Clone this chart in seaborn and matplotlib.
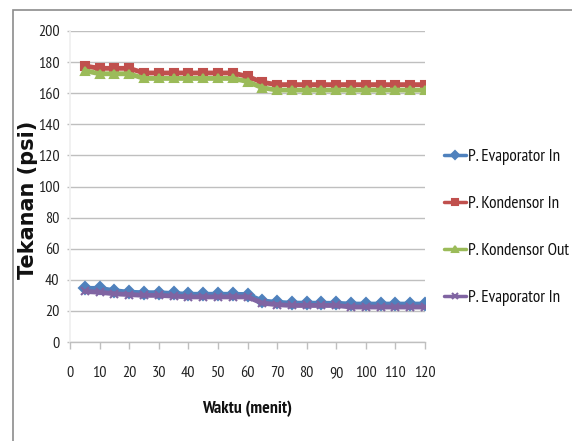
import matplotlib
matplotlib.use("Agg")
import matplotlib.pyplot as plt
import seaborn as sns
import pandas as pd
from matplotlib.patches import Rectangle

waktu = [5, 10, 15, 20, 25, 30, 35, 40, 45, 50, 55, 60, 65, 70, 75, 80, 85, 90, 95, 100, 105, 110, 115, 120]
evap_in_1 = [34.5, 34.5, 33, 32, 31.7, 31.7, 31.2, 30.7, 30.7, 30.7, 30.7, 30.5, 26.4, 25.5, 25, 25, 24.9, 24.9, 24.4, 24.4, 24.4, 24.4, 24.4, 24.4]
kond_in = [177.5, 176, 176, 176, 173, 173, 173, 173, 173, 173, 173, 170.8, 167, 165.5, 165.5, 165.5, 165.5, 165.5, 165.5, 165.5, 165.5, 165.5, 165.5, 165.5]
kond_out = [174.5, 172.5, 172.5, 172.5, 169.5, 169.5, 169.5, 169.5, 169.5, 169.5, 169.5, 167.5, 163.5, 162, 162, 162, 162, 162, 162, 162, 162, 162, 162, 162]
evap_in_2 = [32.5, 32, 31, 30.5, 30, 30, 29.5, 29, 29, 29, 29, 29, 25, 24, 23.5, 23.5, 23.5, 23.5, 22.5, 22.5, 22.5, 22.5, 22.5, 22.5]
labels = ["P. Evaporator In", "P. Kondensor In", "P. Kondensor Out", "P. Evaporator In"]
colors = ["#4F81BD", "#C0504D", "#9BBB59", "#8064A2"]
markers = ["D", "s", "^", "x"]
y_ticks = list(range(0, 201, 20))
x_ticks = list(range(0, 121, 10))

sns.set_theme(style="white")
plt.rcParams['font.family'] = ['PT Sans Narrow', 'Carlito', 'Liberation Sans', 'DejaVu Sans']

fig = plt.figure(figsize=(5.72, 4.41), dpi=100)
ax = fig.add_axes([70/572, 1-342/441, 355/572, 311/441])

series = [evap_in_1, kond_in, kond_out, evap_in_2]
for vals, lab, col, mk in zip(series, labels, colors, markers):
    df = pd.DataFrame({"Waktu": waktu, "Tekanan": vals})
    sns.lineplot(data=df, x="Waktu", y="Tekanan", ax=ax, color=col, marker=mk,
                 markersize=6, markeredgecolor=col, markeredgewidth=1.5,
                 linewidth=3.5, label=lab)

ax.set_xlim(0, 120)
ax.set_ylim(0, 200)
ax.set_xticks(x_ticks)
ax.set_yticks(y_ticks)
ax.yaxis.grid(True, color="#BFBFBF", linewidth=1.0)
ax.xaxis.grid(False)
ax.set_axisbelow(True)
for s in ["top", "right"]:
    ax.spines[s].set_visible(False)
ax.spines["left"].set_color("#F0F0F0")
ax.spines["bottom"].set_color("#BFBFBF")
ax.spines["bottom"].set_linewidth(1.0)
ax.tick_params(axis="x", which="major", direction="out", length=5, width=1, color="#BFBFBF",
               pad=12.5, labelsize=11.5, labelcolor="#222222", bottom=True)
ax.tick_params(axis="y", which="major", direction="out", length=2.5, width=1, color="#BFBFBF",
               pad=5, labelsize=11.5, labelcolor="#222222", left=True)

ax.set_xlabel("Waktu (menit)", fontsize=12.8, fontweight="bold", color="#111111")
ax.xaxis.set_label_coords(0.5, -(401-342)/311)
ax.set_ylabel("Tekanan (psi)", fontsize=15, fontweight="bold", color="#111111",
              family="DejaVu Sans")
ax.yaxis.set_label_coords(-(70-38)/355, 1-(200-31)/311)

handles, labs = ax.get_legend_handles_labels()
if ax.get_legend():
    ax.get_legend().remove()
leg = fig.legend(handles, labs, loc="center left", bbox_to_anchor=(444/572, 1-227.5/441),
                 frameon=False, fontsize=12.3, handlelength=1.3, handletextpad=0.1,
                 labelspacing=1.83, borderpad=0, borderaxespad=0)
for h in leg.legend_handles:
    h.set_linewidth(2.5)
    h.set_markersize(4)
for t in leg.get_texts():
    t.set_color("#111111")

fig.patches.append(Rectangle((13/572, -0.1), 1.2, 1-9.5/441+0.1, transform=fig.transFigure,
                             fill=False, edgecolor="#8C8C8C", linewidth=1.2))

fig.savefig("out.png", dpi=100)
